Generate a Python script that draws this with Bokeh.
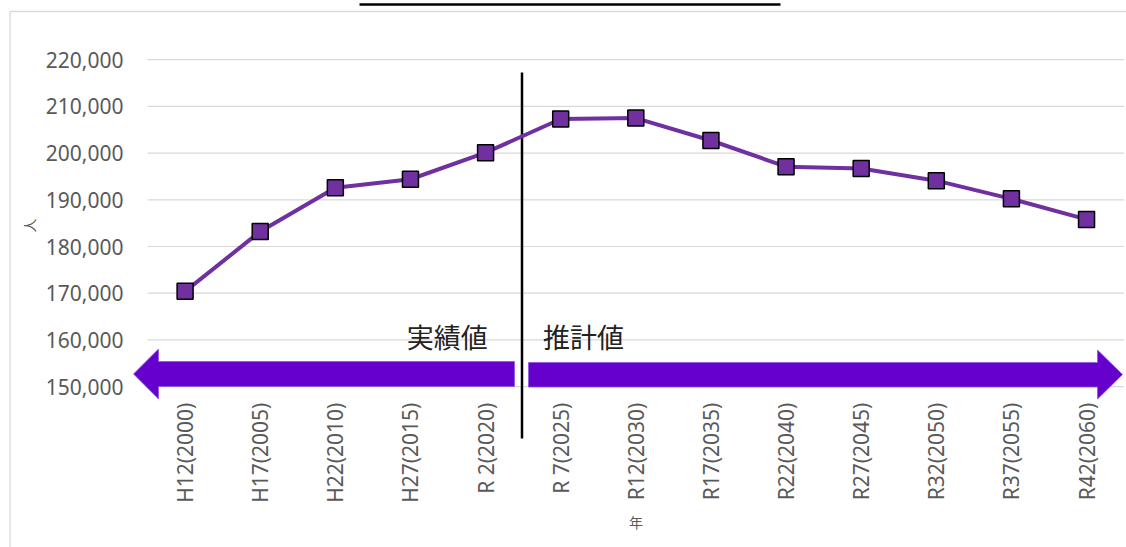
import math
from bokeh.plotting import figure
from bokeh.models import (Range1d, LinearAxis, FixedTicker, NumeralTickFormatter,
                          ColumnDataSource)
from bokeh.core.properties import value
from bokeh.embed import file_html
from bokeh.resources import INLINE

# ---- data ----
categories = ["H12(2000)", "H17(2005)", "H22(2010)", "H27(2015)", "R 2(2020)",
              "R 7(2025)", "R12(2030)", "R17(2035)", "R22(2040)", "R27(2045)",
              "R32(2050)", "R37(2055)", "R42(2060)"]
population = [170400, 183200, 192600, 194400, 200100, 207300, 207500,
              202700, 197100, 196700, 194100, 190200, 185800]
y_ticks = [150000, 160000, 170000, 180000, 190000, 200000, 210000, 220000]
y_label = "人"
x_label = "年"
label_actual = "実績値"
label_forecast = "推計値"

W, H = 1126, 547
# pixel layout of the plot area (category slots and value scale)
X0_PX, SLOT_PX = 184.6, 75.12          # centre of first slot, slot width
Y_BASE_PX, PX_PER_UNIT = 386.1, 0.00467  # pixel of 150,000, px per person


def xd(px):
    return (px - X0_PX) / SLOT_PX


def yd(py):
    return 150000 + (Y_BASE_PX - py) / PX_PER_UNIT


p = figure(width=W, height=H, output_backend="svg", toolbar_location=None,
           x_range=Range1d(xd(0), xd(W)), y_range=Range1d(yd(H), yd(0)),
           x_axis_location=None, y_axis_location=None,
           min_border=0,
           background_fill_color="white", border_fill_color="white",
           outline_line_color=None)
p.grid.visible = False

idx = list(range(len(categories)))

# chart frame border and title underline
p.line([xd(9.5), xd(9.5), xd(W + 5)], [yd(H + 5), yd(11), yd(11)],
       line_color="#d9d9d9", line_width=1.3)
p.line([xd(359), xd(780)], [yd(4), yd(4)], line_color="black", line_width=2.5)

# gridlines across category area
p.segment(x0=[-0.5] * len(y_ticks), x1=[len(categories) - 0.5] * len(y_ticks),
          y0=y_ticks, y1=y_ticks, line_color="#d9d9d9", line_width=1.2)

# arrows
left_arrow_x = [xd(v) for v in [133, 158, 158, 514, 514, 158, 158]]
left_arrow_y = [yd(v) for v in [373.5, 348.5, 361, 361, 386, 386, 398.5]]
right_arrow_x = [xd(v) for v in [1122, 1097, 1097, 528, 528, 1097, 1097]]
right_arrow_y = [yd(v) for v in [374, 349.5, 362, 362, 386.5, 386.5, 398.5]]
p.patches([left_arrow_x, right_arrow_x], [left_arrow_y, right_arrow_y],
          fill_color="#6600CC", line_color="#8f55e0", line_width=0.8)

# divider line between actual and projected
p.line([xd(521.5), xd(521.5)], [yd(72), yd(438)], line_color="black", line_width=2.5)

# series
src = ColumnDataSource(dict(x=idx, y=population))
p.line("x", "y", source=src, line_color="#7030A0", line_width=4)
p.scatter("x", "y", source=src, marker="square", size=16,
          fill_color="#7030A0", line_color="black", line_width=1.5)

# annotations text
p.text(x=[xd(446.7), xd(583)], y=[yd(336), yd(336)],
       text=[label_actual, label_forecast],
       text_font=value("Noto Sans CJK JP"), text_font_size="27px",
       text_color="#222222", text_align="center", text_baseline="middle")

# axis titles
p.text(x=[xd(28)], y=[yd(225)], text=[y_label], angle=math.pi / 2,
       text_font=value("Noto Sans CJK JP"), text_font_size="14px",
       text_color="#595959", text_align="center", text_baseline="middle")
p.text(x=[xd(635.5)], y=[yd(521)], text=[x_label],
       text_font=value("Noto Sans CJK JP"), text_font_size="14px",
       text_color="#595959", text_align="center", text_baseline="middle")

# axes
yaxis = LinearAxis(fixed_location=-0.5, ticker=FixedTicker(ticks=y_ticks),
                   formatter=NumeralTickFormatter(format="0,0"))
yaxis.axis_line_color = None
yaxis.major_tick_line_color = None
yaxis.minor_tick_line_color = None
yaxis.major_tick_in = 0
yaxis.major_tick_out = 0
yaxis.major_label_standoff = 24
yaxis.major_label_text_font = "Noto Sans"
yaxis.major_label_text_font_size = "21px"
yaxis.major_label_text_color = "#595959"
p.add_layout(yaxis, "left")

xaxis = LinearAxis(fixed_location=150000, ticker=FixedTicker(ticks=idx),
                   major_label_overrides={i: c for i, c in enumerate(categories)})
xaxis.axis_line_color = None
xaxis.major_tick_line_color = None
xaxis.minor_tick_line_color = None
xaxis.major_tick_in = 0
xaxis.major_tick_out = 0
xaxis.major_label_standoff = 16
xaxis.major_label_orientation = math.pi / 2
xaxis.major_label_text_font = "Noto Sans"
xaxis.major_label_text_font_size = "21px"
xaxis.major_label_text_color = "#595959"
p.add_layout(xaxis, "below")

open("out.html", "w").write(file_html(p, INLINE))
